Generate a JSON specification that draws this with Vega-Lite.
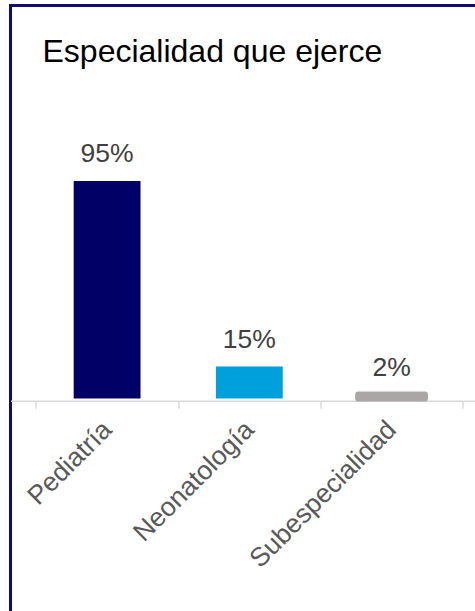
{
  "$schema": "https://vega.github.io/schema/vega-lite/v6.json",
  "autosize": {"type": "none"},
  "width": 484.5,
  "height": 625.5,
  "padding": {"left": 10.5, "top": 5.5, "right": -20, "bottom": -20},
  "background": "white",
  "config": {
    "view": {"stroke": "#0c0c72", "strokeWidth": 3, "strokeOpacity": 1},
    "font": "Liberation Sans"
  },
  "title": {
    "text": "Especialidad que ejerce",
    "anchor": "start",
    "frame": "group",
    "orient": "top",
    "offset": 0,
    "baseline": "alphabetic",
    "dx": 32,
    "dy": 88.5,
    "fontSize": 32,
    "fontWeight": "normal",
    "color": "#000000",
    "font": "Liberation Sans"
  },
  "data": {
    "values": [
      {"categoria": "Pediatría", "valor": 95, "etiqueta": "95%"},
      {"categoria": "Neonatología", "valor": 14, "etiqueta": "15%"},
      {"categoria": "Subespecialidad", "valor": 1.8, "etiqueta": "2%"}
    ]
  },
  "encoding": {
    "x": {
      "field": "categoria",
      "type": "nominal",
      "sort": null,
      "scale": {"paddingInner": 0, "paddingOuter": 0.2032, "align": 0.441},
      "axis": {
        "title": null,
        "orient": "bottom",
        "offset": -230.3,
        "labelAngle": -45,
        "labelAlign": "right",
        "labelBaseline": "middle",
        "labelFontSize": 26.5,
        "labelColor": "#595959",
        "labelPadding": 17,
        "tickSize": 7.5,
        "tickBand": "extent",
        "tickColor": "#d9d9d9",
        "domainColor": "#d9d9d9",
        "tickWidth": 1.5,
        "domainWidth": 1.5,
        "labelFont": "Liberation Sans",
        "labelLimit": 0,
        "labelOverlap": false,
        "labelFlush": false
      }
    },
    "y": {
      "field": "valor",
      "type": "quantitative",
      "scale": {"domain": [-101.55, 171.65], "nice": false, "zero": false},
      "axis": null
    }
  },
  "layer": [
    {
      "mark": {"type": "bar", "width": {"band": 0.47}, "strokeJoin": "round"},
      "encoding": {
        "y2": {"datum": 0},
        "color": {
          "field": "categoria",
          "type": "nominal",
          "scale": {"domain": ["Pediatría", "Neonatología", "Subespecialidad"], "range": ["#000066", "#00a0dc", "#aaa6a6"]},
          "legend": null
        },
        "stroke": {
          "field": "categoria",
          "type": "nominal",
          "scale": {"domain": ["Pediatría", "Neonatología", "Subespecialidad"], "range": ["#000066", "#00a0dc", "#aaa6a6"]},
          "legend": null
        },
        "strokeWidth": {
          "condition": {"test": "datum.categoria === 'Subespecialidad'", "value": 6},
          "value": 0
        }
      }
    },
    {
      "mark": {"type": "text", "baseline": "alphabetic", "dy": -18.5, "fontSize": 26.5, "color": "#404040", "font": "Liberation Sans"},
      "encoding": {"text": {"field": "etiqueta"}}
    }
  ]
}
